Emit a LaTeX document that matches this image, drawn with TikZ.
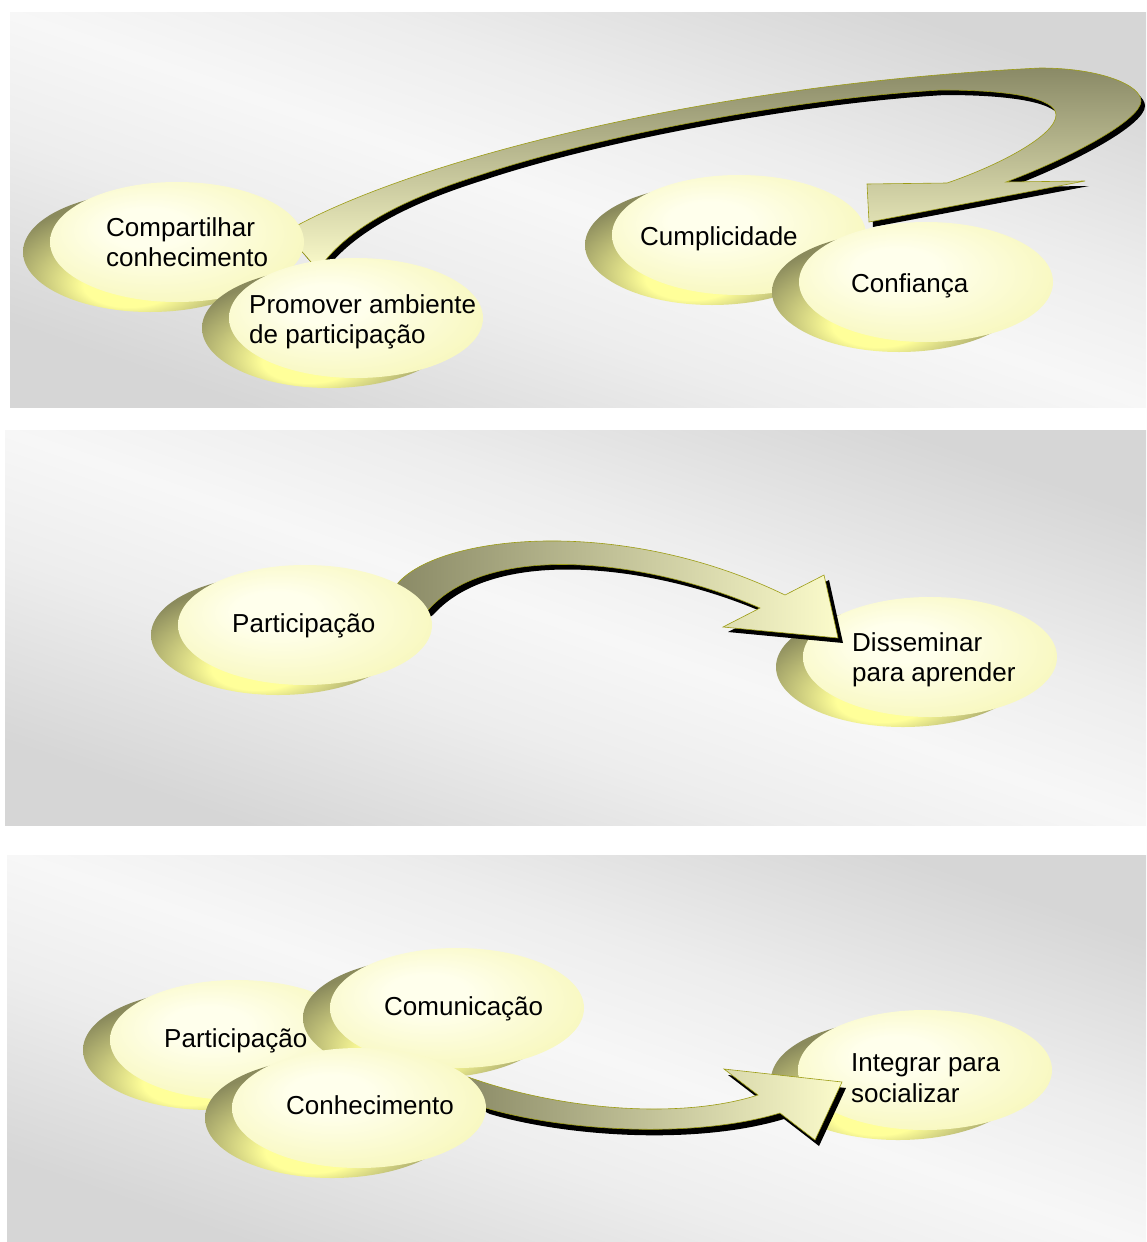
\documentclass[tikz,border=0pt]{standalone}
\usepackage{fontspec}
\setmainfont{Liberation Sans}
\usetikzlibrary{shapes.geometric}
\definecolor{bggray}{HTML}{D6D6D6}
\definecolor{bgmid}{HTML}{EDEDED}
\definecolor{bgwhite}{HTML}{F7F7F7}
\definecolor{facehi}{HTML}{FFFFEC}
\definecolor{facelo}{HTML}{F6F6B4}
\definecolor{cyel}{HTML}{FFFF99}
\definecolor{colive}{HTML}{8A8A5C}
\definecolor{banddark}{HTML}{8A8A66}
\definecolor{bandpale}{HTML}{FBFBCB}
\definecolor{bandline}{HTML}{9C9C14}
\pgfdeclarehorizontalshading{bgsh}{100bp}{color(0bp)=(bggray); color(25bp)=(bggray); color(40bp)=(bgmid); color(50bp)=(bgwhite); color(60bp)=(bgmid); color(75bp)=(bggray); color(100bp)=(bggray)}
\pgfdeclareradialshading{facesh}{\pgfpoint{-7bp}{7bp}}{color(0bp)=(facehi); color(8bp)=(facehi); color(35bp)=(facelo); color(50bp)=(facelo)}
\pgfdeclareradialshading{backsh}{\pgfpoint{-5bp}{-17bp}}{color(0bp)=(cyel); color(9bp)=(cyel); color(28bp)=(colive); color(50bp)=(colive)}
\tikzset{
  backell/.style={ellipse, minimum width=254pt, minimum height=120pt, inner sep=0pt, outer sep=0pt, shade, shading=backsh},
  faceell/.style={ellipse, minimum width=254pt, minimum height=120pt, inner sep=0pt, outer sep=0pt, shade, shading=facesh},
  lbl/.style={anchor=base west, inner sep=0pt, font=\fontsize{26}{30}\selectfont},
  bandshadow/.style={fill=black},
  bandedge/.style={draw=bandline, line width=0.6pt},
  panelbg/.style={shading=bgsh, shading angle=71},
}
\newcommand\bubble[3]{%
  \node[backell] (#1B) at ({#2-27},{#3+10}) {};
  \node[faceell] (#1F) at (#2,#3) {};
}
\newcommand\arrowA{(285,232) -- (298,225) .. controls (420,160) and (700,85) .. (1040,68) .. controls (1100,68) and (1141,85) .. (1141,101) .. controls (1141,120) and (1070,158) .. (1006,182) -- (1085,181) -- (869,222) -- (867,184) -- (947,183) .. controls (1000,165) and (1056,135) .. (1056,115) .. controls (1056,98) and (1010,90) .. (941,90) .. controls (800,98) and (600,135) .. (480,175) .. controls (400,200) and (345,230) .. (318,270) -- cycle}
\newcommand\arrowB{(395,590) -- (398,583) .. controls (440,535) and (620,515) .. (785,595) -- (824,575) -- (838,638) -- (723,627) -- (760,608) .. controls (650,560) and (490,540) .. (428,610) -- (420,615) -- cycle}
\newcommand\arrowC{(460,1080) -- (468,1077) .. controls (560,1110) and (680,1120) .. (758,1095) -- (724,1069) -- (842,1082) -- (815,1140) -- (780,1113) .. controls (690,1140) and (560,1130) .. (486,1108) -- (470,1100) -- cycle}
\begin{document}
\begin{tikzpicture}[x=1pt,y=-1pt]
\useasboundingbox (0,0) rectangle (1146,1242);
\fill[white] (0,0) rectangle (1146,1242);
% panel backgrounds
\shade[panelbg] (10,12) rectangle (1146,407);
\shade[panelbg] (5,430) rectangle (1146,825);
\shade[panelbg] (7,855) rectangle (1146,1242);
% ---------- panel 1
\bubble{cump}{739}{235}
\fill[bandshadow, shift={(4,5)}] \arrowA;
\shadedraw[top color=banddark, bottom color=bandpale, bandedge] \arrowA;
\bubble{conf}{926}{282}
\bubble{comp}{177}{242}
\bubble{prom}{356}{318}
\node[lbl] (t1a) at (106,236) {Compartilhar};
\node[lbl] (t1b) at (106,266) {conhecimento};
\node[lbl] (t2a) at (249,313) {Promover ambiente};
\node[lbl] (t2b) at (249,343) {de participação};
\node[lbl] (t3) at (640,245) {Cumplicidade};
\node[lbl] (t4) at (851,292) {Confiança};
% ---------- panel 2
\bubble{diss}{930}{657}
\fill[bandshadow, shift={(5,5)}] \arrowB;
\shadedraw[left color=banddark, right color=bandpale, bandedge] \arrowB;
\bubble{partA}{305}{625}
\node[lbl] (t5) at (232,632) {Participação};
\node[lbl] (t6a) at (852,651) {Disseminar};
\node[lbl] (t6b) at (852,681) {para aprender};
% ---------- panel 3
\bubble{integ}{925}{1070}
\fill[bandshadow, shift={(4,6)}] \arrowC;
\shadedraw[left color=banddark, right color=bandpale, bandedge] \arrowC;
\bubble{partB}{237}{1040}
\bubble{comu}{457}{1008}
\bubble{conh}{359}{1108}
\node[lbl] (t7) at (164,1047) {Participação};
\node[lbl] (t8) at (384,1015) {Comunicação};
\node[lbl] (t9) at (286,1114) {Conhecimento};
\node[lbl] (t10a) at (851,1071) {Integrar para};
\node[lbl] (t10b) at (851,1102) {socializar};
\end{tikzpicture}
\end{document}
